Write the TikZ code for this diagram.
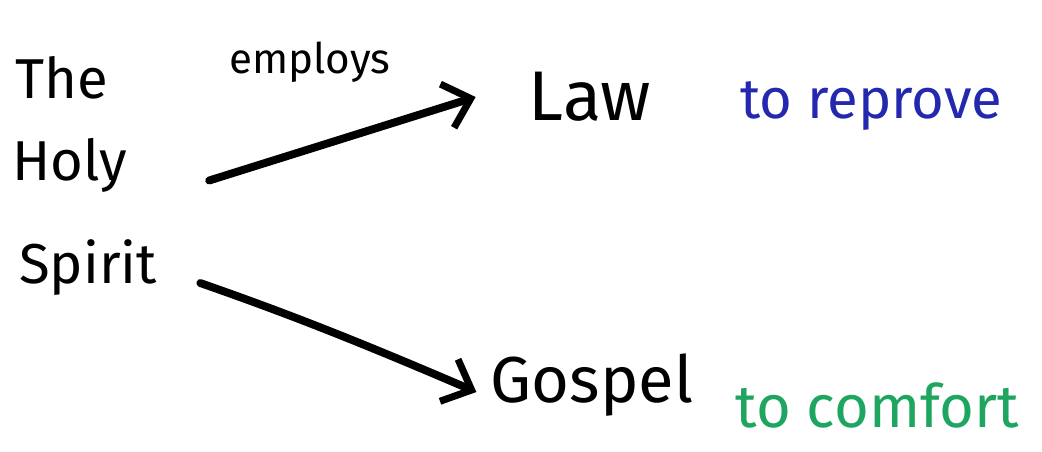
\documentclass[tikz,border=0pt]{standalone}
\usepackage{fontspec}
\setmainfont{Fira Sans}
\usetikzlibrary{positioning, arrows.meta}
\definecolor{reprovecol}{RGB}{35,40,175}
\definecolor{comfortcol}{RGB}{30,165,95}
\tikzset{
x=0.02cm, y=-0.02cm, % one unit is one pixel of the sketch
word/.style={inner sep=0pt, font=\fontsize{32}{38}\selectfont}, % the handwritten words
big word/.style={word, font=\fontsize{40}{48}\selectfont},
note/.style={word, anchor=west, font=\fontsize{32}{36}\selectfont}, % the coloured notes
pen/.style={line width=4.5pt, line cap=round, -{Straight Barb[length=14pt, width=26pt, line width=4pt]}}, % marker arrows
}

\begin{document}
\begin{tikzpicture}
    \useasboundingbox (0,0) rectangle (1042,451);
    \node[word] (the) at (62,78) {The};
    \node[word] (holy) at (70,165) {Holy};
    \node[word] (spirit) at (88,268) {Spirit};
    \node[word, font=\fontsize{24}{28}\selectfont] (employs) at (310,62) {employs};
    \node[big word] (law) at (590,97) {Law};
    \node[note, text=reprovecol] (reprove) at (740,106) {to reprove};
    \node[big word, font=\fontsize{37}{44}\selectfont] (gospel) at (592,385) {Gospel};
    \node[note, text=comfortcol, font=\fontsize{34}{40}\selectfont] (comfort) at (735,405) {to comfort};
    \draw[pen, shorten <=20pt] (holy.east) ++(48,26) coordinate (a1) -- ([xshift=-30pt]law.west);
    \draw[pen, shorten <=26pt] (spirit.east) to[bend left=2] ([xshift=-8pt,yshift=-4pt]gospel.west);
\end{tikzpicture}
\end{document}
